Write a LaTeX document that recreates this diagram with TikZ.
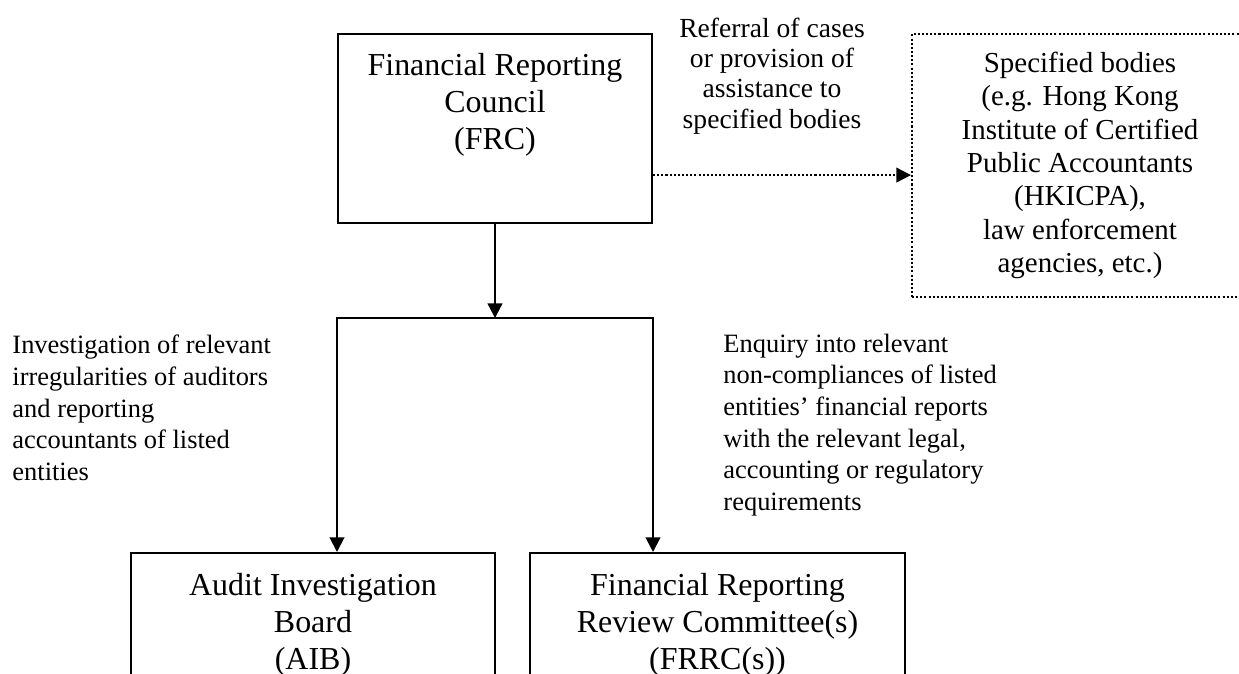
\documentclass[tikz,border=0pt]{standalone}
\usepackage{fontspec}
\setmainfont{Liberation Serif}
\usetikzlibrary{arrows.meta,positioning}

\begin{document}
\begin{tikzpicture}[x=0.4348pt, y=-0.4348pt,
    box/.style     = {draw, line width=0.9pt, inner sep=0pt},
    dotbox/.style  = {box, dash pattern=on 0.9pt off 0.9pt},
    bigtext/.style = {font=\fontsize{13.9}{16.1}\selectfont, align=center, inner sep=0pt},
    spectext/.style= {font=\fontsize{12.6}{14.5}\selectfont, align=center},
    note/.style    = {font=\fontsize{11.5}{13.8}\selectfont, align=left, inner sep=0pt},
    arr/.style     = {line width=0.9pt, -{Triangle[width=6.4pt,length=6.4pt]}},
    dotarr/.style  = {arr, dash pattern=on 0.9pt off 0.9pt}]
    \useasboundingbox (0,0) rectangle (1239,673);
    \clip (0,0) rectangle (1239,673);
    % boxes
    \node[box, minimum width=136.5pt, minimum height=82.2pt] (frc) at (495,128.5) {};
    \node[bigtext] (frclabel) at (495,105) {Financial Reporting\\Council\\(FRC)};
    \node[dotbox, spectext, minimum width=146.1pt, minimum height=114.4pt] (spec) at (1080,165.5)
        {Specified bodies\\(e.g. Hong Kong\\Institute of Certified\\Public Accountants\\(HKICPA),\\law enforcement\\agencies, etc.)};
    \node[box, bigtext, minimum width=158.3pt, minimum height=62.6pt] (aib)  at (313,625)
        {Audit Investigation\\Board\\(AIB)};
    \node[box, bigtext, minimum width=163pt,   minimum height=62.6pt] (frrc) at (717.5,625)
        {Financial Reporting\\Review Committee(s)\\(FRRC(s))};
    % connectors
    \path (frc.south) ++(0,94) coordinate (split);
    \path (frc.south east) ++(0,-49) coordinate (refout);
    \draw[arr] (frc.south) -- (split);
    \draw[arr] (split) -| (aib.north -| frc.west);
    \draw[arr] (split) -| (frrc.north -| frc.east);
    \draw[dotarr] (refout) -- (refout -| spec.west);
    % texts
    \node[font=\fontsize{12}{13.2}\selectfont, align=center, inner sep=0pt] (referral) at (772,76)
        {Referral of cases\\or provision of\\assistance to\\specified bodies};
    \node[note, anchor=west] (aibnote) at (12,408)
        {Investigation of relevant\\irregularities of auditors\\and reporting\\accountants of listed\\entities};
    \node[note, anchor=west] (frrcnote) at (723,425)
        {Enquiry into relevant\\non-compliances of listed\\entities’ financial reports\\with the relevant legal,\\accounting or regulatory\\requirements};
\end{tikzpicture}
\end{document}
